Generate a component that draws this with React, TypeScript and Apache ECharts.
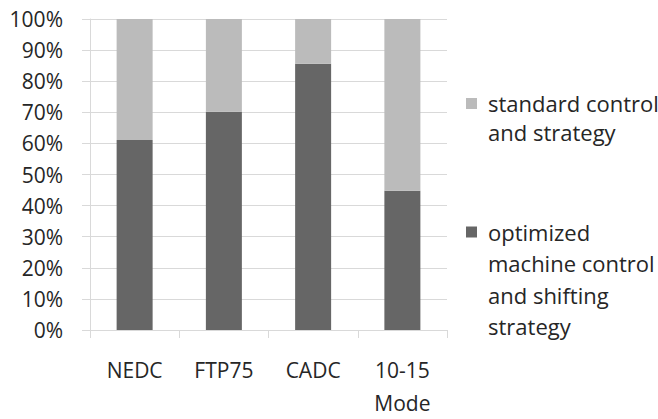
import React, { useEffect, useRef } from "react";
import * as echarts from "echarts";

const categories = ["NEDC", "FTP75", "CADC", "10-15\nMode"];
const optimizedValues = [61.1, 70.2, 85.6, 44.8];
const standardValues = [38.9, 29.8, 14.4, 55.2];
const seriesNames = ["standard control\nand strategy", "optimized\nmachine control\nand shifting\nstrategy"];

const FONT = "'Open Sans', sans-serif";
const TEXT = "#262626";

export default function App() {
  const ref = useRef<HTMLDivElement>(null);
  useEffect(() => {
    if (!ref.current) return;
    const chart = echarts.init(ref.current, undefined, { renderer: "svg" });
    chart.setOption({
      animation: false,
      backgroundColor: "#ffffff",
      grid: { left: 90, right: 211, top: 19, bottom: 84.5, containLabel: false },
      xAxis: {
        type: "category",
        data: categories,
        axisLine: { show: true, lineStyle: { color: "#d9d9d9", width: 1 } },
        axisTick: { show: true, length: 8, lineStyle: { color: "#d9d9d9" } },
        axisLabel: { margin: 24, color: TEXT, fontSize: 21, fontFamily: FONT, lineHeight: 32.5 },
      },
      yAxis: {
        type: "value",
        min: 0,
        max: 100,
        interval: 10,
        axisLine: { show: true, lineStyle: { color: "#d9d9d9", width: 1 } },
        axisTick: { show: true, length: 8, lineStyle: { color: "#d9d9d9" } },
        splitLine: { show: true, lineStyle: { color: "#d9d9d9", width: 1 } },
        axisLabel: { margin: 27, color: TEXT, fontSize: 21, fontFamily: FONT, formatter: "{value}%" },
      },
      series: [
        {
          name: seriesNames[1],
          type: "bar",
          stack: "total",
          barWidth: 36,
          data: optimizedValues,
          itemStyle: { color: "#666666" },
        },
        {
          name: seriesNames[0],
          type: "bar",
          stack: "total",
          barWidth: 36,
          data: standardValues,
          itemStyle: { color: "#bbbbbb" },
        },
      ],
      graphic: [
        { type: "rect", shape: { x: 466, y: 98, width: 11, height: 11 }, style: { fill: "#bbbbbb" } },
        {
          type: "text",
          x: 488,
          y: 88,
          style: { text: seriesNames[0], fill: TEXT, font: `22px ${FONT}`, lineHeight: 29.5, textVerticalAlign: "top" },
        },
        { type: "rect", shape: { x: 466, y: 226.5, width: 11, height: 11 }, style: { fill: "#666666" } },
        {
          type: "text",
          x: 488,
          y: 216,
          style: { text: seriesNames[1], fill: TEXT, font: `22px ${FONT}`, lineHeight: 31.5, textVerticalAlign: "top" },
        },
      ],
    });
    return () => chart.dispose();
  }, []);
  return <div ref={ref} style={{ width: 658, height: 419, position: "absolute", left: 0, top: 0 }} />;
}
